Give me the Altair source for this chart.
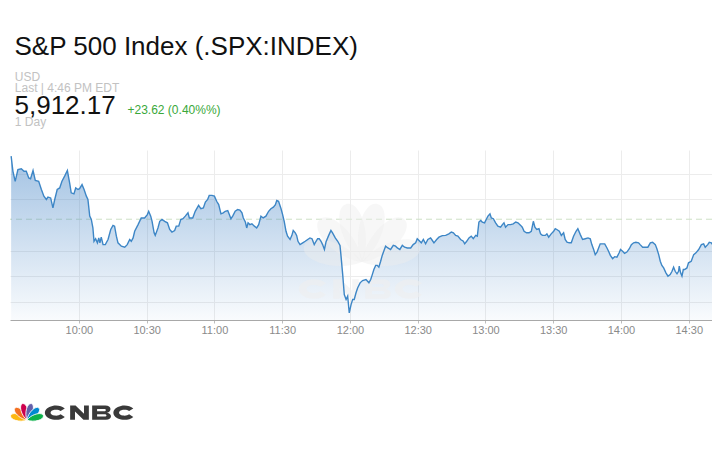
import altair as alt
import pandas as pd

FONT = "Liberation Sans, Arial, sans-serif"

# ---- data: minutes after 9:30 and index level ----
TIME_MIN = [
    0, 0.8, 1.8, 3.0, 4.5, 5.7, 6.7, 7.8, 8.6, 9.7, 10.7, 12.2, 13.4, 14.5, 15.6, 16.3, 17.5, 18.5, 19.3, 20.4,
    21.5, 22.5, 23.7, 24.9, 25.9, 26.6, 27.8, 28.6, 29.6, 30.3, 31.4, 32.3, 33.3, 34.0, 34.8, 35.5, 36.2, 36.7,
    37.4, 38.2, 38.8, 39.3, 39.9, 40.7, 41.7, 42.9, 44.1, 45.1, 45.8, 46.6, 47.3, 48.8, 50.3, 51.4, 52.5, 53.2,
    54.0, 54.7, 56.2, 57.6, 59.1, 60.3, 60.9, 61.8, 62.4, 63.3, 63.8, 65.0, 65.8, 66.8, 68.0, 69.2, 70.2, 71.2,
    72.4, 73.1, 74.2, 75.1, 76.1, 77.1, 78.3,
    78.9, 80.4, 81.5, 83.0, 84.0, 85.1, 86.0, 87.0, 87.7, 88.9, 90.0, 91.0, 91.9, 92.9, 93.9, 94.8, 95.9, 96.6,
    97.3, 98.1, 99.2, 100.3, 101.3, 102.2, 102.8, 103.7, 104.3, 104.9, 105.7, 106.6, 107.7, 108.7, 109.6, 110.6,
    111.6, 112.8, 114.0, 115.0, 116.1, 117.0, 117.6, 118.4, 119.5, 120.2, 120.9, 121.7, 122.4, 123.5, 124.3,
    124.9, 125.8, 126.4, 127.0, 127.9, 129.1, 130.2, 131.3, 132.3, 133.2, 134.2, 135.0, 135.7, 136.4, 137.2,
    137.9, 138.7, 139.4, 140.6, 141.6, 142.3, 143.5, 144.6, 145.6, 146.0, 146.8, 147.5, 148.3, 149.0, 149.7,
    150.5, 151.2, 151.9, 152.7, 153.4, 154.5, 155.6, 157.1,
    158.4, 159.2, 159.9, 160.6, 161.4, 162.1, 162.8, 163.6, 164.3, 165.1, 165.8, 166.8, 168.0, 169.2, 170.2,
    171.0, 172.1, 173.2, 174.2, 175.4, 176.9, 178.0, 179.1, 179.8, 180.6, 181.6, 182.5, 183.5, 184.5, 185.7,
    186.5, 187.2, 188.4, 189.4, 190.9, 192.4, 193.8, 194.9, 195.8, 196.8, 197.8, 199.0, 200.2, 200.8, 201.7,
    202.7, 203.7, 204.6, 205.7, 206.4, 207.1, 207.9, 208.6, 209.6, 210.5, 211.1, 212.0, 212.6, 213.5, 214.5,
    215.5, 216.7, 217.5, 218.2, 218.9, 220.0, 221.1, 222.3, 223.4, 224.4, 225.6, 226.3, 227.1, 228.2, 229.3,
    230.3, 231.2, 231.9, 232.7, 233.7, 234.4, 235.2, 235.9,
    236.5, 237.2, 238.0, 239.1, 240.2, 240.9, 241.6, 242.7, 243.6, 244.6, 245.3, 246.1, 247.1, 248.0, 249.0,
    250.1, 250.9, 252.0, 253.0, 254.2, 255.4, 256.4, 257.1, 257.9, 258.6, 259.4, 260.1, 260.8, 261.9, 262.8,
    263.8, 264.5, 265.3, 266.3, 267.2, 268.2, 269.2, 269.8, 270.7, 271.6, 272.6, 273.7, 274.6, 275.6, 276.6,
    277.8, 278.5, 279.6, 280.8, 281.9, 283.0, 284.0, 285.2, 285.9, 286.7, 287.4, 288.1, 288.9, 289.9, 290.8,
    291.8, 292.6, 293.3, 294.0, 294.8, 295.5, 295.8, 296.4, 297.0, 297.6, 298.2, 299.2, 299.9, 301.1, 302.2,
    303.2, 304.4, 305.6, 306.6, 307.3, 308.4, 309.1, 310.0, 310.6, 311.5, 312.5, 313.8,
]
PRICE = [
    5906.8, 5900.9, 5897.0, 5901.6, 5901.9, 5900.9, 5900.9, 5898.3, 5898.0, 5901.2, 5897.3, 5897.0, 5893.8,
    5891.2, 5889.9, 5890.8, 5890.5, 5886.6, 5889.9, 5893.8, 5894.4, 5897.0, 5899.0, 5901.2, 5896.4, 5892.5,
    5892.1, 5894.4, 5893.8, 5894.1, 5895.7, 5893.8, 5891.2, 5889.9, 5883.4, 5882.1, 5878.8, 5873.6, 5874.6,
    5873.0, 5874.9, 5873.0, 5875.2, 5872.3, 5872.3, 5874.3, 5878.2, 5879.8, 5879.5, 5875.6, 5873.0, 5871.7,
    5871.3, 5872.3, 5874.3, 5873.6, 5874.9, 5877.5, 5880.1, 5882.7, 5882.7, 5884.0, 5885.3, 5883.4, 5881.4,
    5876.9, 5875.9, 5878.8, 5881.4, 5882.1, 5881.4, 5880.8, 5878.2, 5877.2, 5877.8, 5879.5, 5879.5, 5882.1,
    5882.4, 5883.4, 5884.7,
    5882.7, 5882.7, 5885.3, 5887.6, 5886.3, 5886.6, 5888.9, 5889.9, 5891.5, 5891.5, 5891.2, 5889.2, 5887.9,
    5884.3, 5884.7, 5885.3, 5885.6, 5884.0, 5882.4, 5883.4, 5885.3, 5886.0, 5885.8, 5884.7, 5882.7, 5881.1,
    5878.8, 5880.8, 5880.1, 5880.4, 5879.5, 5878.8, 5880.1, 5883.4, 5882.7, 5883.4, 5885.3, 5886.3, 5886.9,
    5887.9, 5889.5, 5889.2, 5886.3, 5884.0, 5881.4, 5877.5, 5875.6, 5874.3, 5875.9, 5877.8, 5876.9, 5875.9,
    5873.6, 5872.3, 5873.0, 5873.6, 5874.3, 5874.9, 5874.6, 5872.3, 5873.6, 5874.6, 5874.6, 5873.6, 5872.3,
    5870.4, 5873.3, 5875.9, 5877.8, 5876.9, 5874.9, 5873.6, 5872.0, 5868.4, 5860.6, 5852.8, 5850.9, 5852.2,
    5845.7, 5848.9, 5850.9, 5850.9, 5853.5, 5855.4, 5857.4, 5858.3, 5858.7,
    5857.4, 5858.7, 5860.6, 5862.6, 5864.2, 5864.2, 5863.5, 5865.8, 5868.1, 5870.0, 5871.7, 5871.0, 5870.4,
    5872.0, 5871.7, 5871.0, 5870.4, 5872.0, 5871.3, 5871.0, 5871.0, 5872.3, 5873.0, 5874.6, 5873.9, 5873.0,
    5874.3, 5872.6, 5874.3, 5874.9, 5873.9, 5873.0, 5874.3, 5875.2, 5875.8, 5875.9, 5876.5, 5877.2, 5876.9,
    5875.9, 5875.6, 5874.3, 5873.6, 5872.6, 5873.6, 5874.9, 5875.6, 5874.6, 5875.9, 5875.6, 5881.1, 5881.7,
    5881.1, 5880.8, 5882.4, 5883.4, 5884.3, 5882.7, 5882.4, 5880.8, 5879.5, 5879.1, 5880.1, 5880.8, 5879.1,
    5880.1, 5880.1, 5880.4, 5881.1, 5880.8, 5879.8, 5879.1, 5877.5, 5876.9, 5876.9, 5877.5, 5881.4, 5879.1,
    5878.2, 5878.5, 5876.5, 5875.9, 5875.9,
    5875.9, 5876.5, 5875.2, 5876.5, 5877.5, 5878.5, 5878.2, 5877.5, 5875.9, 5876.9, 5874.3, 5873.3, 5873.0,
    5873.0, 5875.6, 5877.5, 5878.5, 5876.2, 5874.3, 5874.6, 5874.9, 5874.6, 5872.3, 5870.4, 5868.4, 5869.4,
    5871.0, 5872.6, 5872.6, 5872.6, 5871.0, 5869.7, 5868.1, 5866.8, 5867.6, 5867.4, 5869.1, 5870.4, 5869.7,
    5868.9, 5869.4, 5870.7, 5872.3, 5873.0, 5873.2, 5873.0, 5872.3, 5871.3, 5871.3, 5871.3, 5873.0, 5873.2,
    5872.3, 5870.7, 5868.4, 5865.8, 5864.2, 5863.2, 5861.3, 5860.0, 5860.6, 5861.9, 5863.5, 5861.9, 5860.9,
    5861.9, 5863.9, 5861.3, 5860.0, 5862.6, 5862.6, 5863.2, 5865.2, 5865.8, 5868.4, 5869.1, 5870.4, 5872.3,
    5872.6, 5871.3, 5872.3, 5873.2, 5873.0, 5872.3, 5873.0, 5873.3, 5873.6,
]
PREV_CLOSE = 5882.2
GRID_PRICES = [5850, 5860, 5870, 5890, 5900]
TICK_MIN = [30, 60, 90, 120, 150, 180, 210, 240, 270, 300]

TITLE = "S&P 500 Index (.SPX:INDEX)"
CURRENCY = "USD"
LAST_LINE = "Last | 4:46 PM EDT"
LAST_PRICE = "5,912.17"
CHANGE = "+23.62 (0.40%%)"
PERIOD = "1 Day"

X_DOMAIN = [-0.5, 310.3]
Y_DOMAIN = [5842.9, 5909.2]
W, H = 702, 170

df = pd.DataFrame({"t": TIME_MIN, "p": PRICE})

xscale = alt.Scale(domain=X_DOMAIN, nice=False, zero=False)
yscale = alt.Scale(domain=Y_DOMAIN, nice=False, zero=False)

label_expr = ("floor((datum.value + 570) / 60) + ':' + "
              "(((datum.value + 570) % 60) < 10 ? '0' : '') + ((datum.value + 570) % 60)")

xaxis = alt.Axis(values=TICK_MIN, labelExpr=label_expr, title=None, grid=True,
                 gridColor="#ececec", gridWidth=1, domainColor="#a8a8a8", tickColor="#bdbdbd",
                 tickSize=3, labelPadding=1, labelFont=FONT, labelFontSize=11,
                 labelColor="#8a8a8a", labelFlush=False, labelOverlap=False)
yaxis = alt.Axis(values=GRID_PRICES, labels=False, ticks=False, domain=False, title=None,
                 grid=True, gridColor="#ececec", gridWidth=1)

gradient = {
    "gradient": "linear", "x1": 0, "x2": 0, "y1": 0, "y2": 1,
    "stops": [
        {"offset": 0, "color": "rgba(62,128,196,0.48)"},
        {"offset": 1, "color": "rgba(62,128,196,0.03)"},
    ],
}

rule = alt.Chart(pd.DataFrame({"p": [PREV_CLOSE]})).mark_rule(
    color="#cde0c5", strokeDash=[6, 4], strokeWidth=1
).encode(y=alt.Y("p:Q", scale=yscale, axis=yaxis))

area = alt.Chart(df).mark_area(clip=True, color=gradient).encode(
    x=alt.X("t:Q", scale=xscale, axis=xaxis),
    y=alt.Y("p:Q", scale=yscale, axis=yaxis),
    y2=alt.datum(Y_DOMAIN[0]),
)

line = alt.Chart(df).mark_line(clip=True, color="#3d86c6", strokeWidth=1.4).encode(
    x=alt.X("t:Q", scale=xscale, axis=xaxis),
    y=alt.Y("p:Q", scale=yscale, axis=yaxis),
)

FEATHER = "M0,1 C-0.55,0.3 -0.5,-1 0,-1 C0.5,-1 0.55,0.3 0,1 Z"
LETTER_C = "M0.8,-0.38 A1,0.65 0 1 0 0.8,0.38 L0.42,0.15 A0.5,0.27 0 1 1 0.42,-0.15 Z"
LETTER_N = ("M-0.85,0.65 L-0.85,-0.65 L-0.36,-0.65 L0.41,0.1 L0.41,-0.65 L0.85,-0.65 "
            "L0.85,0.65 L0.36,0.65 L-0.41,-0.1 L-0.41,0.65 Z")
LETTER_B = ("M-0.85,-0.65 L0.35,-0.65 C0.95,-0.65 0.95,-0.06 0.5,0 C1.0,0.06 1.0,0.65 0.4,0.65 "
            "L-0.85,0.65 Z M-0.4,-0.34 L-0.4,-0.13 L0.26,-0.13 C0.44,-0.13 0.44,-0.34 0.26,-0.34 Z "
            "M-0.4,0.13 L-0.4,0.35 L0.3,0.35 C0.5,0.35 0.5,0.13 0.3,0.13 Z")


def glyph(path, x, y, side, color, opacity=1.0, angle=0, stroke=None):
    kw = dict(shape=path, size=side * side, filled=True, color=color, opacity=opacity, angle=angle)
    if stroke:
        kw.update(stroke=stroke, strokeWidth=0.8)
    else:
        kw.update(strokeWidth=0)
    return alt.Chart(pd.DataFrame({"k": [0]})).mark_point(**kw).encode(
        x=alt.value(x), y=alt.value(y))


def label(s, x, y, size, color):
    return alt.Chart(pd.DataFrame({"s": [s]})).mark_text(
        align="left", baseline="alphabetic", font=FONT, fontSize=size, color=color
    ).encode(x=alt.value(x), y=alt.value(y), text="s:N")


# watermark (faint peacock + letters)
WM = "#eeeeee"
WO = 0.45
watermark = [
    glyph(FEATHER, 323.0, 104.2, 60, WM, WO, 285),
    glyph(FEATHER, 330.8, 90.8, 60, WM, WO, 315),
    glyph(FEATHER, 344.2, 83.0, 60, WM, WO, 345),
    glyph(FEATHER, 359.8, 83.0, 60, WM, WO, 15),
    glyph(FEATHER, 373.2, 90.8, 60, WM, WO, 45),
    glyph(FEATHER, 381.0, 104.2, 60, WM, WO, 75),
    glyph(LETTER_C, 304, 139, 30, WM, 0.6),
    glyph(LETTER_N, 336, 139, 30, WM, 0.6),
    glyph(LETTER_B, 368, 139, 30, WM, 0.6),
    glyph(LETTER_C, 400, 139, 30, WM, 0.6),
]

texts = [
    label(TITLE, 4.5, -95, 26, "#111111"),
    label(CURRENCY, 4.8, -69, 12, "#c2c2c2"),
    label(LAST_LINE, 4.8, -58.3, 12, "#c2c2c2"),
    label(LAST_PRICE, 4.5, -36, 26, "#111111"),
    label(CHANGE, 117.5, -36, 12, "#3aa83a"),
    label(PERIOD, 4.8, -24.5, 12, "#c2c2c2"),
]

logo = [
    glyph(FEATHER, 8.8, 267.8, 17, "#fcb711", 1, 285, "white"),
    glyph(FEATHER, 11.0, 264.0, 17, "#f37021", 1, 315, "white"),
    glyph(FEATHER, 14.8, 261.8, 17, "#cc004c", 1, 345, "white"),
    glyph(FEATHER, 19.2, 261.8, 17, "#6460aa", 1, 15, "white"),
    glyph(FEATHER, 23.0, 264.0, 17, "#0089d0", 1, 45, "white"),
    glyph(FEATHER, 25.2, 267.8, 17, "#0db14b", 1, 75, "white"),
    glyph(LETTER_C, 46, 262.7, 22, "#3a3a3a"),
    glyph(LETTER_N, 69.5, 262.7, 22, "#3a3a3a"),
    glyph(LETTER_B, 91.5, 262.7, 22, "#3a3a3a"),
    glyph(LETTER_C, 114.5, 262.7, 22, "#3a3a3a"),
]

chart = alt.layer(rule, area, *watermark, line, *texts, *logo).properties(
    width=W, height=H,
    autosize=alt.AutoSizeParams(type="none"),
    padding={"left": 2, "top": 142, "right": 0, "bottom": 120},
    background="white",
).configure_view(strokeWidth=0)

chart.save("out.html", embed_options={"renderer": "svg", "actions": False})
